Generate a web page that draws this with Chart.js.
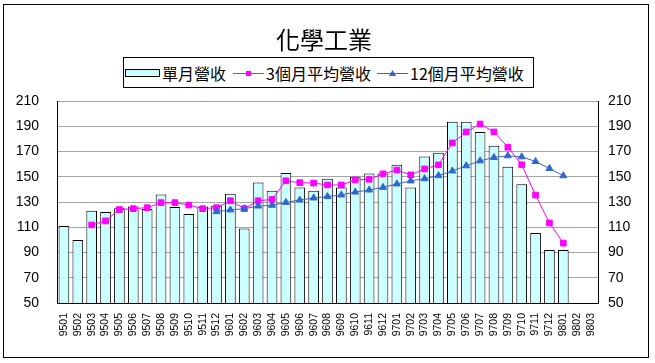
<!DOCTYPE html>
<html>
<head>
<meta charset="utf-8">
<script src="https://cdn.jsdelivr.net/npm/chart.js@4.4.1/dist/chart.umd.min.js"></script>
<style>
  html, body { margin: 0; padding: 0; background: #fff; }
  #wrap { position: relative; width: 655px; height: 363px; }
  #frame {
    position: absolute; left: 3px; top: 4px; width: 646px; height: 354px;
    box-sizing: border-box; border: 1px solid #000; pointer-events: none;
  }
  #legend {
    position: absolute; left: 123px; top: 57px; width: 411px; height: 31px;
    box-sizing: border-box; border: 1px solid #000; background: #fff;
    font-family: "Noto Sans CJK TC", "Liberation Sans", sans-serif; font-size: 16px; color: #000;
  }
  #legend .item { position: absolute; top: 0; height: 29px; display: flex; align-items: center; white-space: nowrap; }
  #legend svg { margin-right: 2px; }
</style>
</head>
<body>
<div id="wrap">
  <canvas id="chart" width="655" height="363"></canvas>
  <div id="frame"></div>
  <div id="legend"></div>
</div>
<script>
        // Months (yymm)
        const months = [
            '9501','9502','9503','9504','9505','9506','9507','9508','9509','9510','9511','9512',
            '9601','9602','9603','9604','9605','9606','9607','9608','9609','9610','9611','9612',
            '9701','9702','9703','9704','9705','9706','9707','9708','9709','9710','9711','9712',
            '9801','9802','9803'
        ];

        // 單月營收
        const monthlyRevenue = [
            111, 100, 123, 122, 125, 126.5, 124.5, 136, 126, 120.5, 126.5, 127,
            136.5, 109, 145.5, 139, 153, 141.5, 139, 148.5, 141.5, 150, 152.5, 152.5,
            159.5, 141.5, 166, 169, 193.5, 193.5, 185.5, 174.5, 158, 144, 105.5, 92,
            92, null, null
        ];

        // 3個月平均營收
        const avg3 = [
            null, null, 111.8, 115, 124, 124.7, 125.5, 129.5, 129.5, 127.6, 124.7, 125.5,
            131, 124.7, 131, 132, 146.8, 145.3, 145, 143.5, 143.5, 147.5, 148, 152.3,
            155.3, 151.5, 156.2, 159.4, 176.8, 185.5, 191.8, 185.5, 173.4, 159.5, 135.5, 113.4,
            97.4, null, null
        ];

        // 12個月平均營收
        const avg12 = [
            null, null, null, null, null, null, null, null, null, null, null, 122.4,
            123.7, 124.7, 126.8, 127.4, 129.7, 131.5, 133.2, 134.3, 135.6, 137.9, 139.5, 141.6,
            144.3, 146.7, 148.5, 150.9, 154.6, 158.7, 162.6, 165.3, 166.6, 165.8, 162.1, 156.6,
            150.8, null, null
        ];

        const seriesNames = ['單月營收', '3個月平均營收', '12個月平均營收'];
        const yTicks = [50, 70, 90, 110, 130, 150, 170, 190, 210];

        const colors = {
            barFill: '#ccffff',
            barBorder: '#000000',
            avg3: '#ff00ff',
            avg12: '#3366cc',
            grid: '#a6a6a6'
        };

        const tickFont = { family: '"Liberation Sans", Arial, sans-serif', size: 14 };

        // y axis settings shared by both sides
        const yAxis = (position, width, pad) => ({
            type: 'linear',
            position: position,
            min: yTicks[0],
            max: yTicks[yTicks.length - 1],
            afterBuildTicks: scale => { scale.ticks = yTicks.map(v => ({ value: v })); },
            afterFit: scale => { scale.width = width; },
            ticks: { color: '#000', font: tickFont, padding: pad },
            grid: {
                display: position === 'left',
                drawOnChartArea: position === 'left',
                drawTicks: false,
                color: colors.grid,
                lineWidth: 1
            },
            border: { display: true, color: '#000', width: 1 }
        });

        new Chart(document.getElementById('chart'), {
            data: {
                labels: months,
                datasets: [
                    {
                        type: 'line',
                        label: seriesNames[2],
                        data: avg12,
                        borderColor: colors.avg12,
                        backgroundColor: colors.avg12,
                        borderWidth: 1,
                        pointStyle: 'triangle',
                        pointRadius: 4,
                        pointBackgroundColor: colors.avg12,
                        pointBorderColor: colors.avg12,
                        pointBorderWidth: 1,
                        tension: 0,
                        yAxisID: 'y',
                        order: 1
                    },
                    {
                        type: 'line',
                        label: seriesNames[1],
                        data: avg3,
                        borderColor: colors.avg3,
                        backgroundColor: colors.avg3,
                        borderWidth: 1,
                        pointStyle: 'rect',
                        pointRadius: 4,
                        pointBackgroundColor: colors.avg3,
                        pointBorderColor: colors.avg3,
                        pointBorderWidth: 1,
                        tension: 0,
                        yAxisID: 'y',
                        order: 2
                    },
                    {
                        type: 'bar',
                        label: seriesNames[0],
                        data: monthlyRevenue,
                        backgroundColor: colors.barFill,
                        borderColor: colors.barBorder,
                        borderWidth: 1,
                        barPercentage: 0.77,
                        categoryPercentage: 1.0,
                        yAxisID: 'y',
                        order: 3
                    }
                ]
            },
            options: {
                responsive: false,
                animation: false,
                layout: { padding: { left: 16, right: 23, top: 0, bottom: 0 } },
                plugins: {
                    legend: { display: false },
                    tooltip: { enabled: false },
                    title: {
                        display: true,
                        text: '化學工業',
                        color: '#000',
                        font: { family: '"Noto Sans CJK TC", sans-serif', size: 24, weight: 'normal', lineHeight: 1.2 },
                        padding: { top: 25, bottom: 47.2 }
                    }
                },
                scales: {
                    x: {
                        offset: true,
                        afterFit: scale => { scale.height = 60; },
                        ticks: {
                            color: '#000',
                            font: { family: '"Liberation Sans", Arial, sans-serif', size: 10.5 },
                            minRotation: 90,
                            maxRotation: 90,
                            autoSkip: false,
                            padding: 10
                        },
                        grid: { display: false, drawTicks: false },
                        border: { display: true, color: '#000', width: 1 }
                    },
                    y: yAxis('left', 41, 18),
                    y1: yAxis('right', 34, 10)
                }
            }
        });

        // HTML legend built from the series names
        const legendEl = document.getElementById('legend');
        const markers = [
            '<svg width="35" height="10"><rect x="0.5" y="1.5" width="34" height="7" fill="' + colors.barFill + '" stroke="#000"/></svg>',
            '<svg width="31" height="10"><line x1="0" y1="5.5" x2="31" y2="5.5" stroke="' + colors.avg3 + '"/><rect x="13" y="3" width="5" height="5" fill="' + colors.avg3 + '"/></svg>',
            '<svg width="31" height="10"><line x1="0" y1="5.5" x2="31" y2="5.5" stroke="' + colors.avg12 + '"/><polygon points="15.5,2 19,8 12,8" fill="' + colors.avg12 + '"/></svg>'
        ];
        const itemLeft = [1, 109, 253];
        seriesNames.forEach((name, i) => {
            const item = document.createElement('span');
            item.className = 'item';
            item.style.left = itemLeft[i] + 'px';
            item.innerHTML = markers[i] + '<span>' + name + '</span>';
            legendEl.appendChild(item);
        });
</script>
</body>
</html>
